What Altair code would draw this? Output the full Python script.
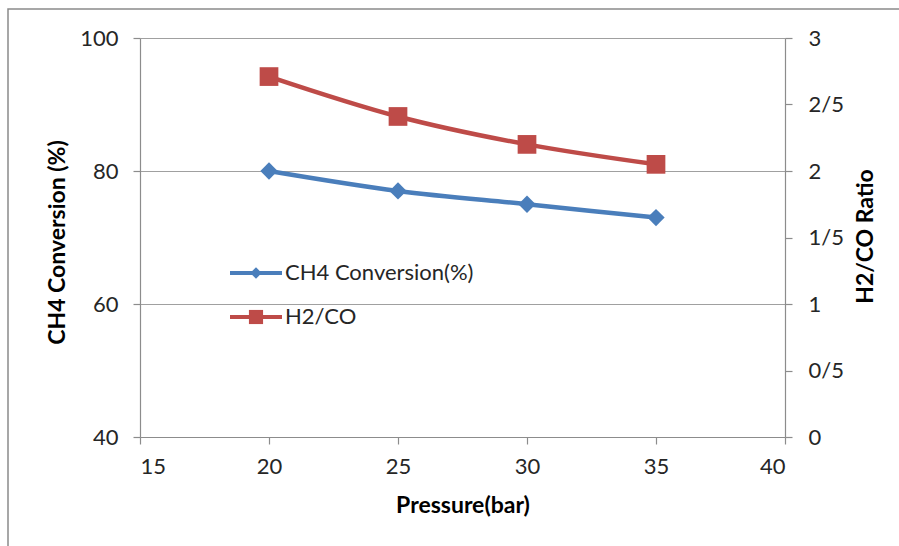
import altair as alt
import pandas as pd

# Measured series
pressure = [20, 25, 30, 35]
ch4_conversion = [80, 77, 75, 73]
h2_co_ratio = [2.71, 2.41, 2.20, 2.05]

# Axis ticks
x_ticks = [15, 20, 25, 30, 35, 40]
left_ticks = [40, 60, 80, 100]
right_ticks = [0, 0.5, 1, 1.5, 2, 2.5, 3]

series_names = ["CH4 Conversion(%)", "H2/CO"]
series_colors = ["#4A7EBB", "#BE4B48"]

FONT = "Lato"
TEXT = "#262626"
AXIS_GREY = "#8C8C8C"

df = pd.DataFrame({"pressure": pressure, "ch4": ch4_conversion, "ratio": h2_co_ratio})
one = pd.DataFrame({"k": [0]})

axis_common = dict(
    labelFont=FONT, labelFontSize=22, labelColor=TEXT,
    titleFont=FONT, titleFontSize=23, titleFontWeight="bold", titleColor="black",
    domainColor=AXIS_GREY, domainWidth=1.2,
    tickColor=AXIS_GREY, tickSize=7, tickWidth=1.2,
)

x_enc = alt.X(
    "pressure:Q",
    scale=alt.Scale(domain=[15, 40], nice=False, zero=False),
    axis=alt.Axis(values=x_ticks, title="Pressure(bar)", grid=False, labelPadding=12,
                  titleY=68, titleBaseline="middle", **axis_common),
)

y_left = alt.Y(
    "ch4:Q",
    scale=alt.Scale(domain=[40, 100], nice=False, zero=False),
    axis=alt.Axis(orient="left", values=left_ticks, title="CH4 Conversion (%)",
                  grid=True, gridColor="#A0A0A0", gridWidth=1.2, labelPadding=15,
                  titleAngle=270, titleX=-83, titleY=204, titleAlign="center",
                  titleBaseline="middle", **axis_common),
)

y_right = alt.Y(
    "ratio:Q",
    scale=alt.Scale(domain=[0, 3], nice=False, zero=True),
    axis=alt.Axis(orient="right", values=right_ticks, title="H2/CO Ratio", grid=False,
                  format="~g", labelExpr="replace(datum.label, '.', '/')",
                  labelPadding=16, titleAngle=270, titleX=80, titleY=198,
                  titleAlign="center", titleBaseline="middle", **axis_common),
)

base = alt.Chart(df)

ch4_layer = alt.layer(
    base.mark_line(color=series_colors[0], strokeWidth=4.5, interpolate="monotone"),
    base.mark_point(shape="diamond", filled=True, size=300, opacity=1, color=series_colors[0]),
).encode(x=x_enc, y=y_left)

ratio_layer = alt.layer(
    base.mark_line(color=series_colors[1], strokeWidth=4.5, interpolate="monotone"),
    base.mark_point(shape="square", filled=True, size=350, opacity=1, color=series_colors[1]),
).encode(x=x_enc, y=y_right)

# Outer chart frame
frame = alt.Chart(one).mark_rect(fill="transparent", stroke="#8A8A8A", strokeWidth=1.5).encode(
    x=alt.value(-132), x2=alt.value(1000), y=alt.value(-29), y2=alt.value(1000)
)

# Legend entries inside the plot area
legend_layers = []
legend_rows = [(235, "diamond", 130), (279, "square", 200)]
for (ly, shape, msize), name, col in zip(legend_rows, series_names, series_colors):
    legend_layers.append(
        alt.Chart(one).mark_rule(color=col, strokeWidth=4).encode(
            x=alt.value(90), x2=alt.value(142), y=alt.value(ly))
    )
    legend_layers.append(
        alt.Chart(one).mark_point(shape=shape, filled=True, size=msize, opacity=1, color=col).encode(
            x=alt.value(116), y=alt.value(ly))
    )
    legend_layers.append(
        alt.Chart(one).mark_text(text=name, font=FONT, fontSize=22, color=TEXT,
                                 align="left", baseline="middle").encode(
            x=alt.value(145), y=alt.value(ly))
    )

chart = alt.layer(frame, ch4_layer, ratio_layer, *legend_layers).resolve_scale(
    y="independent"
).properties(
    width=645, height=399,
    autosize=alt.AutoSizeParams(type="none"),
    padding={"left": 140, "top": 38, "right": 114, "bottom": 109},
    background="white",
).configure_view(stroke="transparent")

chart.save("out.html", embed_options={"renderer": "svg", "actions": False})
